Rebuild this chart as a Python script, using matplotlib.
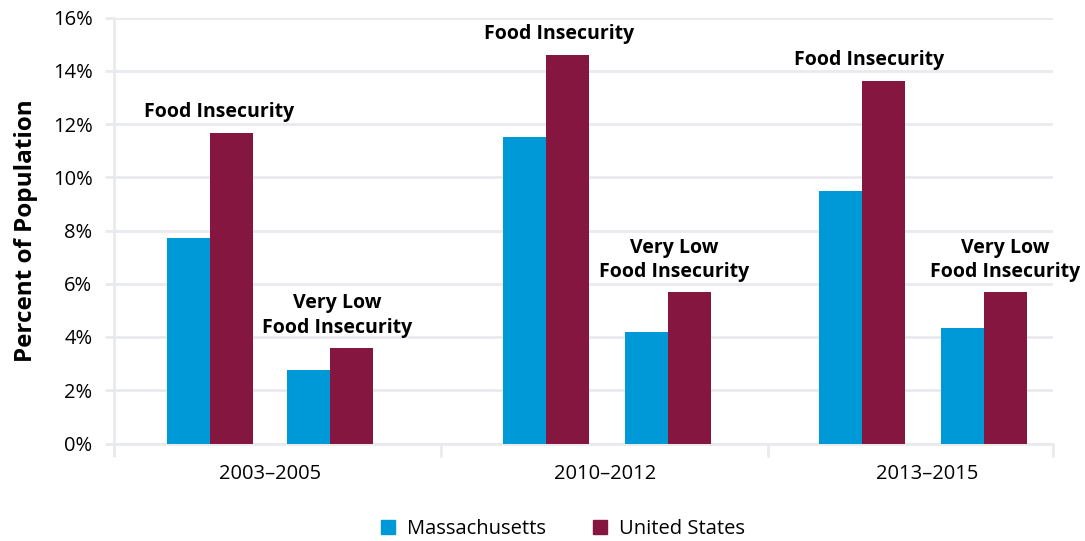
import matplotlib
matplotlib.use("Agg")
import matplotlib.pyplot as plt
from matplotlib.patches import Patch

# ---- data ----
periods = ["2003–2005", "2010–2012", "2013–2015"]
measures = ["Food Insecurity", "Very Low\nFood Insecurity"]
series_names = ["Massachusetts", "United States"]
ma_food_insecurity = [7.7, 11.5, 9.5]
us_food_insecurity = [11.65, 14.6, 13.6]
ma_very_low = [2.75, 4.2, 4.35]
us_very_low = [3.6, 5.7, 5.7]
y_ticks = [0, 2, 4, 6, 8, 10, 12, 14, 16]

# ---- style / layout ----
plt.rcParams['font.family'] = ['Open Sans', 'DejaVu Sans']
c_ma = "#0099d8"
c_us = "#84163f"
grid_c = "#e9eaee"
W, H = 1085, 541
fig = plt.figure(figsize=(W / 100, H / 100), dpi=100)
ax = fig.add_axes([114 / W, 1 - 443.5 / H, (1053 - 114) / W, (443.5 - 17.5) / H])

# layout positions (pixel-like units inside the axes)
pair_centers_fi = [96, 432, 748]
pair_centers_vl = [216, 554, 870]
label_dx_fi = [9, 13, 7]
label_dx_vl = [7, 6, 21]
bw = 43
boundaries = [0, 327, 654, 939]
period_label_x = [156, 491, 813]

for i in range(3):
    ax.bar(pair_centers_fi[i] - bw / 2, ma_food_insecurity[i], bw, color=c_ma, zorder=3)
    ax.bar(pair_centers_fi[i] + bw / 2, us_food_insecurity[i], bw, color=c_us, zorder=3)
    ax.bar(pair_centers_vl[i] - bw / 2, ma_very_low[i], bw, color=c_ma, zorder=3)
    ax.bar(pair_centers_vl[i] + bw / 2, us_very_low[i], bw, color=c_us, zorder=3)
    top_fi = max(ma_food_insecurity[i], us_food_insecurity[i])
    ax.annotate(measures[0], (pair_centers_fi[i] + label_dx_fi[i], top_fi),
                xytext=(0, 8), textcoords="offset points", ha="center", va="bottom",
                fontsize=14, fontweight="bold", zorder=4)
    top_vl = max(ma_very_low[i], us_very_low[i])
    ax.annotate(measures[1], (pair_centers_vl[i] + label_dx_vl[i], top_vl),
                xytext=(0, 7), textcoords="offset points", ha="center", va="bottom",
                fontsize=14, fontweight="bold", linespacing=1.3, zorder=4,
                annotation_clip=False)

ax.set_xlim(0, 939)
ax.set_ylim(0, 16)
ax.set_yticks(y_ticks)
ax.set_yticklabels([f"{v}%" for v in y_ticks], fontsize=14.5)
ax.yaxis.grid(True, color=grid_c, linewidth=2, zorder=0)
ax.set_xticks(boundaries)
ax.set_xticklabels([])
ax.set_xticks(period_label_x, minor=True)
ax.set_xticklabels(periods, minor=True, fontsize=14.5)
ax.tick_params(axis="x", which="major", length=9.5, width=2, color=grid_c)
ax.tick_params(axis="x", which="minor", length=0, pad=15)
ax.tick_params(axis="y", length=6.5, width=2, color=grid_c, pad=9)
for s in ["top", "right"]:
    ax.spines[s].set_visible(False)
ax.spines["left"].set_color(grid_c)
ax.spines["left"].set_linewidth(2)
ax.spines["left"].set_bounds(-0.45, 16)
ax.spines["bottom"].set_color(grid_c)
ax.spines["bottom"].set_linewidth(2)
ax.set_ylabel("Percent of Population", fontsize=17.5, fontweight="bold")
ax.yaxis.set_label_coords(-0.081, 0.5)

handles = [Patch(color=c_ma), Patch(color=c_us)]
fig.legend(handles, series_names, loc="lower center", bbox_to_anchor=(0.519, 0.004),
           borderaxespad=0, borderpad=0, ncol=2, frameon=False, fontsize=14.5,
           handlelength=0.7, handleheight=0.7, handletextpad=0.6, columnspacing=2.3)

fig.savefig("out.png", dpi=100)
